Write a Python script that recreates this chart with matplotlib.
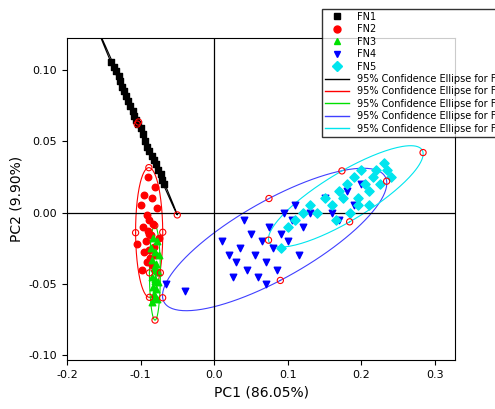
import numpy as np
import matplotlib.pyplot as plt
from matplotlib.lines import Line2D

# group scores (PC1, PC2)
fn1_x = [-0.140, -0.136, -0.133, -0.130, -0.128, -0.125, -0.122, -0.120, -0.117, -0.114, -0.111,
         -0.109, -0.106, -0.103, -0.100, -0.097, -0.094, -0.091, -0.088, -0.085, -0.082, -0.079,
         -0.076, -0.073, -0.071, -0.068]
fn1_y = [0.106, 0.102, 0.099, 0.096, 0.092, 0.088, 0.085, 0.082, 0.078, 0.075, 0.071,
         0.068, 0.065, 0.062, 0.059, 0.055, 0.050, 0.046, 0.043, 0.040, 0.037, 0.034,
         0.030, 0.027, 0.023, 0.020]
fn2_x = [-0.090, -0.080, -0.095, -0.085, -0.100, -0.078, -0.092, -0.088, -0.083, -0.097,
         -0.090, -0.086, -0.075, -0.093, -0.105, -0.082, -0.089, -0.095, -0.080, -0.087,
         -0.092, -0.084, -0.098, -0.078, -0.088]
fn2_y = [0.025, 0.018, 0.012, 0.010, 0.005, 0.003, -0.002, -0.005, -0.008, -0.010,
         -0.013, -0.016, -0.018, -0.020, -0.022, -0.024, -0.026, -0.028, -0.030, -0.032,
         -0.035, -0.037, -0.040, -0.042, -0.015]
fn3_x = [-0.083, -0.078, -0.086, -0.080, -0.075, -0.084, -0.079, -0.082, -0.077, -0.085,
         -0.081, -0.076, -0.083, -0.079, -0.082, -0.080, -0.078, -0.084, -0.081, -0.079]
fn3_y = [-0.018, -0.020, -0.025, -0.028, -0.030, -0.033, -0.036, -0.039, -0.042, -0.045,
         -0.047, -0.049, -0.052, -0.054, -0.057, -0.059, -0.061, -0.063, -0.048, -0.040]
fn4_x = [-0.040, -0.065, 0.010, 0.020, 0.030, 0.035, 0.045, 0.050, 0.055, 0.060, 0.065,
         0.070, 0.075, 0.080, 0.085, 0.090, 0.095, 0.100, 0.105, 0.110, 0.120, 0.130,
         0.150, 0.160, 0.170, 0.180, 0.190, 0.200, 0.040, 0.025, 0.070, 0.115]
fn4_y = [-0.055, -0.050, -0.020, -0.030, -0.035, -0.025, -0.040, -0.015, -0.030, -0.045,
         -0.020, -0.035, -0.010, -0.025, -0.040, -0.015, 0.000, -0.020, -0.005, 0.005,
         -0.010, 0.000, 0.010, 0.000, -0.005, 0.015, 0.005, 0.020, -0.005, -0.045, -0.050, -0.030]
fn5_x = [0.090, 0.100, 0.110, 0.120, 0.130, 0.140, 0.150, 0.160, 0.170, 0.180, 0.185,
         0.190, 0.195, 0.200, 0.205, 0.210, 0.215, 0.220, 0.225, 0.230, 0.235, 0.175,
         0.165, 0.195, 0.210, 0.240]
fn5_y = [-0.025, -0.010, -0.005, 0.000, 0.005, 0.000, 0.010, 0.005, 0.015, 0.020, 0.000,
         0.025, 0.010, 0.030, 0.020, 0.015, 0.025, 0.030, 0.020, 0.035, 0.030, 0.010,
         -0.005, 0.005, 0.005, 0.025]

groups = [("FN1", fn1_x, fn1_y, "black", "s"),
          ("FN2", fn2_x, fn2_y, "red", "o"),
          ("FN3", fn3_x, fn3_y, "#00e000", "^"),
          ("FN4", fn4_x, fn4_y, "blue", "v"),
          ("FN5", fn5_x, fn5_y, "#00e5ee", "D")]
ell_cols = ["black", "red", "#00e000", "#4040ff", "#00e5ee"]

fig = plt.figure(figsize=(4.95, 4.09), dpi=100)
ax = fig.add_axes([67 / 495, 1 - 360 / 409, (455 - 67) / 495, (360 - 38) / 409])

t = np.linspace(0, 2 * np.pi, 200)
for (name, xs, ys, c, m), ec in zip(groups, ell_cols):
    ax.scatter(xs, ys, c=c, marker=m, s=22, edgecolors=c, zorder=3)
    pts = np.column_stack([xs, ys])
    mu = pts.mean(axis=0)
    vals, vecs = np.linalg.eigh(np.cov(pts.T))
    r = np.sqrt(vals * 5.991)
    circ = np.column_stack([np.cos(t), np.sin(t)]) * r
    e = circ @ vecs.T + mu
    ax.plot(e[:, 0], e[:, 1], color=ec, lw=0.8, zorder=2)
    # axis end points
    ends = np.array([[r[0], 0], [-r[0], 0], [0, r[1]], [0, -r[1]]]) @ vecs.T + mu
    ax.scatter(ends[:, 0], ends[:, 1], s=20, facecolors="none", edgecolors="red", lw=0.8, zorder=4)

ax.axhline(0, color="black", lw=0.9)
ax.axvline(0, color="black", lw=0.9)
ax.set_xlim(-0.2, 0.327)
ax.set_ylim(-0.1035, 0.1225)
ax.set_xticks([-0.2, -0.1, 0.0, 0.1, 0.2, 0.3])
ax.set_yticks([-0.10, -0.05, 0.00, 0.05, 0.10])
ax.set_xticklabels(["-0.2", "-0.1", "0.0", "0.1", "0.2", "0.3"])
ax.set_yticklabels(["-0.10", "-0.05", "0.00", "0.05", "0.10"])
ax.tick_params(labelsize=8, direction="out")
ax.set_xlabel("PC1 (86.05%)", fontsize=10)
ax.set_ylabel("PC2 (9.90%)", fontsize=10)

handles = [Line2D([], [], ls="none", marker=m, color=c, markersize=5) for _, _, _, c, m in groups]
handles += [Line2D([], [], color=c, lw=1) for c in ell_cols]
labels = [g[0] for g in groups] + ["95% Confidence Ellipse for " + g[0] for g in groups]
fig.legend(handles, labels, loc="upper left", bbox_to_anchor=(317 / 495, 1 - 4 / 409),
           fontsize=7, frameon=True, fancybox=False, edgecolor="black", labelspacing=0.25,
           handlelength=2.5, borderpad=0.3)

fig.savefig("out.png")
